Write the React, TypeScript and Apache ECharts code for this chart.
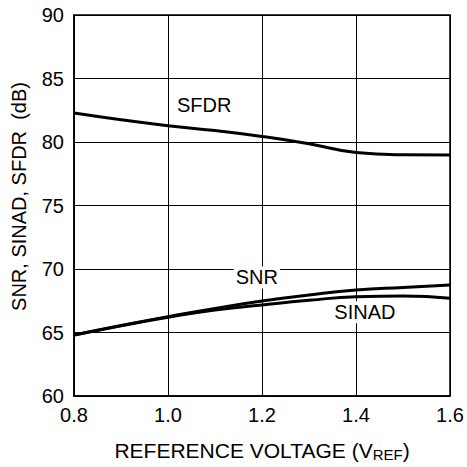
import React, { useEffect, useRef } from "react";
import * as echarts from "echarts";

const xValues = [0.8, 0.9, 1.0, 1.1, 1.2, 1.3, 1.4, 1.5, 1.6];
const sfdr = [82.28, 81.75, 81.28, 80.9, 80.44, 79.87, 79.18, 79.0, 78.98];
const snr = [64.8, 65.55, 66.25, 66.9, 67.48, 67.95, 68.34, 68.55, 68.74];
const sinad = [64.8, 65.52, 66.2, 66.78, 67.17, 67.53, 67.82, 67.87, 67.69];
const xTicks = [0.8, 1.0, 1.2, 1.4, 1.6];
const yTicks = [60, 65, 70, 75, 80, 85, 90];
const curveLabels = [
  { name: "SFDR", coord: [1.077, 82.93] },
  { name: "SNR", coord: [1.189, 69.34] },
  { name: "SINAD", coord: [1.419, 66.59] },
];

const FONT = "Liberation Sans, Arial, sans-serif";

export default function App() {
  const ref = useRef<HTMLDivElement>(null);
  useEffect(() => {
    const chart = echarts.init(ref.current!, null, { renderer: "svg" });
    const mk = (vals: number[]) => vals.map((v, i) => [xValues[i], v]);
    const labelOf = (n: string) => {
      const l = curveLabels.find((c) => c.name === n)!;
      return {
        symbol: "rect",
        symbolSize: 0,
        silent: true,
        data: [
          {
            coord: l.coord,
            label: {
              show: true,
              position: "inside",
              formatter: l.name,
              color: "#000",
              fontSize: 20,
              fontFamily: FONT,
              backgroundColor: "#fff",
              padding: [1, 2],
            },
          },
        ],
      };
    };
    const lineSeries = (name: string, vals: number[]) => ({
      type: "line",
      name,
      data: mk(vals),
      smooth: true,
      showSymbol: false,
      lineStyle: { color: "#000", width: 3 },
      markPoint: labelOf(name),
      z: 3,
    });
    chart.setOption({
      animation: false,
      backgroundColor: "#fff",
      grid: {
        left: 74,
        right: 17,
        top: 15,
        bottom: 70,
        show: true,
        borderColor: "#000",
        borderWidth: 1.5,
      },
      xAxis: {
        type: "value",
        min: xTicks[0],
        max: xTicks[xTicks.length - 1],
        interval: 0.2,
        name: "{a|REFERENCE VOLTAGE (V}{s|REF}{a|)}",
        nameLocation: "middle",
        nameGap: 42,
        nameTextStyle: {
          rich: {
            a: { fontSize: 21, lineHeight: 24, fontFamily: FONT, color: "#000" },
            s: { fontSize: 15, lineHeight: 14, fontFamily: FONT, color: "#000", verticalAlign: "bottom" },
          },
        },
        axisLine: { show: true, lineStyle: { color: "#000", width: 1.5 } },
        axisTick: { show: false },
        axisLabel: {
          color: "#000",
          fontSize: 20,
          fontFamily: FONT,
          margin: 9,
          formatter: (v: number) => v.toFixed(1),
        },
        splitLine: { show: true, lineStyle: { color: "#000", width: 1 } },
      },
      yAxis: {
        type: "value",
        min: yTicks[0],
        max: yTicks[yTicks.length - 1],
        interval: 5,
        name: "SNR, SINAD, SFDR  (dB)",
        nameLocation: "middle",
        nameGap: 45,
        nameTextStyle: { fontSize: 20, fontFamily: FONT, color: "#000", padding: [0, 0, 0, 18] },
        axisLine: { show: true, lineStyle: { color: "#000", width: 1.5 } },
        axisTick: { show: false },
        axisLabel: { color: "#000", fontSize: 20, fontFamily: FONT, margin: 10 },
        splitLine: { show: true, lineStyle: { color: "#000", width: 1 } },
      },
      series: [lineSeries("SFDR", sfdr), lineSeries("SNR", snr), lineSeries("SINAD", sinad)],
    });
    return () => chart.dispose();
  }, []);
  return (
    <div
      ref={ref}
      style={{ position: "absolute", left: 0, top: 0, width: 467, height: 467 }}
    />
  );
}
